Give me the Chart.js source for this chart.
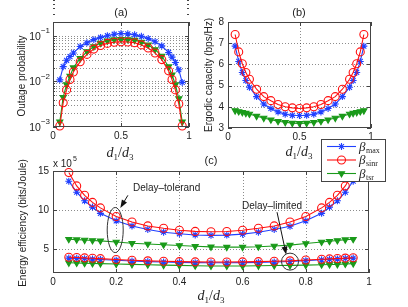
<!DOCTYPE html>
<html>
<head>
<meta charset="utf-8">
<script src="https://cdn.jsdelivr.net/npm/chart.js@4.4.0/dist/chart.umd.min.js"></script>
<style>
  html, body { margin: 0; padding: 0; background: #fff; }
  #wrap { position: relative; width: 408px; height: 307px; }
  #wrap canvas { position: absolute; }
  #chartA { left: 0; top: 0; }
  #chartB { left: 200px; top: 0; }
  #chartC { left: 0; top: 135px; }
</style>
</head>
<body>
<div id="wrap">
  <canvas id="chartA" width="200" height="160"></canvas>
  <canvas id="chartB" width="208" height="160"></canvas>
  <canvas id="chartC" width="408" height="172"></canvas>
</div>
<script>
// d1/d3 afstanden (x-as, gelijk voor alle panelen)
const xRatio = [0.05, 0.075, 0.1, 0.125, 0.15, 0.2, 0.25, 0.3, 0.35, 0.4, 0.45, 0.5,
                0.55, 0.6, 0.65, 0.7, 0.75, 0.8, 0.85, 0.875, 0.9, 0.925, 0.95];

// (a) outage probability
const outageMax  = [0.0108, 0.021, 0.029, 0.035, 0.042, 0.058, 0.070, 0.082, 0.092, 0.100, 0.108, 0.112,
                    0.110, 0.105, 0.097, 0.087, 0.074, 0.060, 0.043, 0.034, 0.026, 0.018, 0.0095];
const outageSinr = [0.00105, 0.0034, 0.0065, 0.011, 0.016, 0.027, 0.039, 0.051, 0.061, 0.068, 0.072, 0.074,
                    0.073, 0.070, 0.063, 0.054, 0.042, 0.030, 0.017, 0.011, 0.0065, 0.0032, 0.00105];
const outageTsr  = [0.0013, 0.0045, 0.0085, 0.013, 0.020, 0.032, 0.045, 0.058, 0.069, 0.077, 0.082, 0.084,
                    0.083, 0.080, 0.073, 0.063, 0.050, 0.036, 0.021, 0.014, 0.0085, 0.0042, 0.0013];

// (b) ergodic capacity
const capMax  = [6.86, 6.14, 5.62, 5.24, 4.92, 4.48, 4.13, 3.92, 3.76, 3.65, 3.60, 3.59,
                 3.60, 3.65, 3.76, 3.92, 4.13, 4.48, 4.92, 5.24, 5.62, 6.14, 6.86];
const capSinr = [7.41, 6.59, 6.03, 5.62, 5.30, 4.83, 4.48, 4.29, 4.11, 4.00, 3.95, 3.92,
                 3.95, 4.00, 4.11, 4.29, 4.48, 4.83, 5.30, 5.62, 6.03, 6.59, 7.41];
const capTsr  = [3.82, 3.78, 3.74, 3.70, 3.66, 3.56, 3.47, 3.39, 3.32, 3.27, 3.23, 3.22,
                 3.23, 3.27, 3.32, 3.39, 3.47, 3.56, 3.66, 3.70, 3.74, 3.78, 3.82];

// (c) energy efficiency (x 10^5), delay-tolerant en delay-limited
const eeTolMax  = [13.7, 12.3, 11.2, 10.4, 9.6, 8.65, 8.0, 7.55, 7.2, 7.0, 6.85, 6.8,
                   6.83, 6.95, 7.2, 7.55, 7.95, 8.65, 9.6, 10.4, 11.2, 12.3, 13.7];
const eeTolSinr = [14.8, 13.1, 11.9, 11.0, 10.3, 9.2, 8.5, 8.0, 7.7, 7.45, 7.3, 7.25,
                   7.28, 7.45, 7.7, 8.0, 8.5, 9.2, 10.3, 11.0, 11.9, 13.1, 14.8];
const eeTolTsr  = [6.3, 6.25, 6.2, 6.15, 6.1, 5.95, 5.8, 5.7, 5.6, 5.5, 5.4, 5.33,
                   5.3, 5.3, 5.35, 5.45, 5.55, 5.75, 5.95, 6.05, 6.15, 6.25, 6.3];
const eeLimMax  = [3.9, 3.87, 3.83, 3.78, 3.73, 3.63, 3.53, 3.45, 3.4, 3.35, 3.32, 3.3,
                   3.3, 3.32, 3.35, 3.4, 3.47, 3.57, 3.68, 3.75, 3.8, 3.85, 3.9];
const eeLimSinr = [4.0, 3.97, 3.93, 3.88, 3.83, 3.73, 3.63, 3.55, 3.5, 3.45, 3.42, 3.4,
                   3.4, 3.42, 3.45, 3.5, 3.55, 3.65, 3.75, 3.8, 3.85, 3.9, 3.95];
const eeLimTsr  = [3.3, 3.28, 3.25, 3.22, 3.2, 3.15, 3.1, 3.05, 3.0, 2.97, 2.93, 2.9,
                   2.9, 2.9, 2.92, 2.95, 2.97, 3.0, 3.05, 3.08, 3.1, 3.15, 3.2];

// tick waarden en labels
const xTicksAB = [0, 0.5, 1];
const xLabelsAB = ['0', '0.5', '1'];
const xTicksC = [0, 0.2, 0.4, 0.6, 0.8, 1];
const xLabelsC = ['0', '0.2', '0.4', '0.6', '0.8', '1'];
const outageDecades = [1e-3, 1e-2, 1e-1];
const outageExpLabels = ['\u22123', '\u22122', '\u22121'];
const capTicks = [3, 4, 5, 6, 7, 8];
const eeTicks = [5, 10, 15];
const legendNames = ['max', 'sinr', 'tsr'];

const FONT = '"Liberation Sans", Arial, sans-serif';
const SERIF = '"Liberation Serif", "DejaVu Serif", serif';
const TEXT = '#222';

const styles = {
  max:  { color: '#2040ff', pointStyle: 'star',     radius: 3.5, fill: '#2040ff', rotation: 0 },
  sinr: { color: '#ff1010', pointStyle: 'circle',   radius: 4,   fill: 'rgba(0,0,0,0)', rotation: 0 },
  tsr:  { color: '#1a9a1a', pointStyle: 'triangle', radius: 3.5, fill: '#1a9a1a', rotation: 180 }
};

function makeSet(key, values) {
  const s = styles[key];
  return {
    data: values.map((v, i) => ({ x: xRatio[i], y: v })),
    borderColor: s.color,
    backgroundColor: s.fill,
    pointBackgroundColor: s.fill,
    pointBorderColor: s.color,
    pointStyle: s.pointStyle,
    pointRadius: s.radius,
    pointRotation: s.rotation,
    pointBorderWidth: 1.1,
    borderWidth: 1.1,
    tension: 0,
    fill: false,
    clip: false
  };
}

// minor log ticks 1..9 per decade, plus 0.2 bovenaan
const outageGrid = [];
outageDecades.forEach(d => { for (let m = 1; m <= 9; m++) outageGrid.push(+(m * d).toPrecision(3)); });
outageGrid.push(0.2);

// raster, kader en labels tekent de frame plugin zelf
const noGrid = { display: false, drawTicks: false };

function axis(type, min, max, tickVals, fitKey, fitSize, labels) {
  return {
    type, min, max,
    ticks: { display: false },
    grid: noGrid, border: { display: false },
    afterBuildTicks: s => { s.ticks = tickVals.map(v => ({ value: v })); },
    afterFit: s => { s[fitKey] = fitSize; },
    tickLabels: labels
  };
}

function baseOptions(pad, xCfg, yCfg) {
  return {
    responsive: false, animation: false, devicePixelRatio: 1,
    layout: { padding: pad },
    plugins: { legend: { display: false }, tooltip: { enabled: false } },
    scales: { x: xCfg, y: yCfg }
  };
}

function drawText(ctx, text, x, y, size, align) {
  ctx.save();
  ctx.font = size + 'px ' + FONT;
  ctx.fillStyle = TEXT;
  ctx.textAlign = align || 'center';
  ctx.textBaseline = 'middle';
  ctx.fillText(text, x, y);
  ctx.restore();
}

// gestippeld raster + kader met naar binnen wijzende ticks + tick labels
const framePlugin = {
  id: 'frame',
  beforeDatasetsDraw(chart) {
    const { ctx, chartArea: a, scales } = chart;
    ctx.save();
    ctx.strokeStyle = 'rgba(0,0,0,0.45)';
    ctx.lineWidth = 1;
    ctx.setLineDash([1, 2]);
    scales.x.ticks.forEach(t => {
      const px = Math.round(scales.x.getPixelForValue(t.value)) + 0.5;
      if (px <= a.left + 1 || px >= a.right - 1) return;
      ctx.beginPath(); ctx.moveTo(px, a.top); ctx.lineTo(px, a.bottom); ctx.stroke();
    });
    scales.y.ticks.forEach(t => {
      const py = Math.round(scales.y.getPixelForValue(t.value)) + 0.5;
      if (py <= a.top + 1 || py >= a.bottom - 1) return;
      ctx.beginPath(); ctx.moveTo(a.left, py); ctx.lineTo(a.right, py); ctx.stroke();
    });
    ctx.restore();
  },
  afterDatasetsDraw(chart) {
    const { ctx, chartArea: a, scales } = chart;
    ctx.save();
    ctx.strokeStyle = '#444';
    ctx.lineWidth = 1;
    ctx.strokeRect(a.left + 0.5, a.top + 0.5, a.right - a.left - 1, a.bottom - a.top - 1);
    ctx.beginPath();
    scales.x.ticks.forEach(t => {
      const px = Math.round(scales.x.getPixelForValue(t.value)) + 0.5;
      ctx.moveTo(px, a.bottom); ctx.lineTo(px, a.bottom - 4);
      ctx.moveTo(px, a.top); ctx.lineTo(px, a.top + 4);
    });
    const isLog = scales.y.type === 'logarithmic';
    scales.y.ticks.forEach(t => {
      const py = Math.round(scales.y.getPixelForValue(t.value)) + 0.5;
      const len = isLog && !outageDecades.includes(t.value) ? 2 : 4;
      ctx.moveTo(a.left, py); ctx.lineTo(a.left + len, py);
      ctx.moveTo(a.right, py); ctx.lineTo(a.right - len, py);
    });
    ctx.stroke();
    ctx.restore();

    const xl = scales.x.options.tickLabels;
    if (xl) scales.x.ticks.forEach((t, i) => drawText(ctx, xl[i], scales.x.getPixelForValue(t.value), a.bottom + 9, 10));
    const yl = scales.y.options.tickLabels;
    if (yl) scales.y.ticks.forEach((t, i) => drawText(ctx, yl[i], a.left - 4, scales.y.getPixelForValue(t.value), 10, 'right'));
  }
};
Chart.register(framePlugin);

function drawRatio(ctx, cx, cy) {
  const parts = [
    ['d', 'italic 14px ' + SERIF, 0], ['1', '9px ' + SERIF, 3],
    ['/', '14px ' + SERIF, 0],
    ['d', 'italic 14px ' + SERIF, 0], ['3', '9px ' + SERIF, 3]
  ];
  ctx.save();
  ctx.fillStyle = TEXT;
  ctx.textBaseline = 'alphabetic';
  ctx.textAlign = 'left';
  let w = 0;
  parts.forEach(p => { ctx.font = p[1]; w += ctx.measureText(p[0]).width; });
  let x = cx - w / 2;
  parts.forEach(p => { ctx.font = p[1]; ctx.fillText(p[0], x, cy + 5 + p[2]); x += ctx.measureText(p[0]).width; });
  ctx.restore();
}

function drawVText(ctx, text, x, y) {
  ctx.save();
  ctx.translate(x, y);
  ctx.rotate(-Math.PI / 2);
  drawText(ctx, text, 0, 0, 10);
  ctx.restore();
}

function drawArrow(ctx, x1, y1, x2, y2) {
  const ang = Math.atan2(y2 - y1, x2 - x1);
  ctx.save();
  ctx.strokeStyle = '#111'; ctx.fillStyle = '#111'; ctx.lineWidth = 1;
  ctx.beginPath(); ctx.moveTo(x1, y1); ctx.lineTo(x2 - 5 * Math.cos(ang), y2 - 5 * Math.sin(ang)); ctx.stroke();
  ctx.beginPath();
  ctx.moveTo(x2, y2);
  ctx.lineTo(x2 - 8 * Math.cos(ang) + 3 * Math.sin(ang), y2 - 8 * Math.sin(ang) - 3 * Math.cos(ang));
  ctx.lineTo(x2 - 8 * Math.cos(ang) - 3 * Math.sin(ang), y2 - 8 * Math.sin(ang) + 3 * Math.cos(ang));
  ctx.closePath(); ctx.fill();
  ctx.restore();
}

// (a) canvas op (0,0)
new Chart(document.getElementById('chartA'), {
  type: 'line',
  data: { datasets: [makeSet('sinr', outageSinr), makeSet('tsr', outageTsr), makeSet('max', outageMax)] },
  options: baseOptions({ left: 23, right: 11, top: 22, bottom: 13 },
    axis('linear', 0, 1, xTicksAB, 'height', 20, xLabelsAB),
    axis('logarithmic', 0.001, 0.2, outageGrid, 'width', 30, null)),
  plugins: [{
    id: 'textA',
    afterDraw(chart) {
      const { ctx, chartArea: a, scales } = chart;
      drawText(ctx, '(a)', 121, 13, 11);
      drawVText(ctx, 'Outage probability', 22, 76);
      drawRatio(ctx, 120, 152);
      outageDecades.forEach((d, i) => {
        const py = scales.y.getPixelForValue(d);
        ctx.save();
        ctx.font = '8px ' + FONT;
        const sw = ctx.measureText(outageExpLabels[i]).width;
        ctx.restore();
        const right = a.left - 3;
        drawText(ctx, outageExpLabels[i], right, py - 5, 8, 'right');
        drawText(ctx, '10', right - sw, py + 1, 10.5, 'right');
      });
    }
  }]
});

// (b) canvas op (200,0)
new Chart(document.getElementById('chartB'), {
  type: 'line',
  data: { datasets: [makeSet('sinr', capSinr), makeSet('max', capMax), makeSet('tsr', capTsr)] },
  options: baseOptions({ left: 2, right: 37, top: 22, bottom: 12 },
    axis('linear', 0, 1, xTicksAB, 'height', 20, xLabelsAB),
    axis('linear', 3, 8, capTicks, 'width', 26, capTicks.map(String))),
  plugins: [{
    id: 'textB',
    afterDraw(chart) {
      const { ctx } = chart;
      drawText(ctx, '(b)', 99, 13, 11);
      drawVText(ctx, 'Ergodic capacity (bps/Hz)', 9, 75);
      drawRatio(ctx, 99, 151);
    }
  }]
});

// (c) canvas op (0,135)
const OY = 135;
new Chart(document.getElementById('chartC'), {
  type: 'line',
  data: { datasets: [
    makeSet('sinr', eeTolSinr), makeSet('max', eeTolMax), makeSet('tsr', eeTolTsr),
    makeSet('sinr', eeLimSinr), makeSet('max', eeLimMax), makeSet('tsr', eeLimTsr)
  ] },
  options: baseOptions({ left: 23, right: 39, top: 36, bottom: 14 },
    axis('linear', 0, 1, xTicksC, 'height', 20, xLabelsC),
    axis('linear', 2, 15, eeTicks, 'width', 30, eeTicks.map(String))),
  plugins: [{
    id: 'textC',
    afterDraw(chart) {
      const { ctx, scales } = chart;
      const X = v => scales.x.getPixelForValue(v);
      const Y = v => scales.y.getPixelForValue(v);
      drawText(ctx, '(c)', 211, 161 - OY, 11);
      drawText(ctx, 'x 10', 53, 164 - OY, 10, 'left');
      drawText(ctx, '5', 73, 159 - OY, 7, 'left');
      drawVText(ctx, 'Energy efficiency (bits/Joule)', 23, 223 - OY);
      drawRatio(ctx, 211, 295 - OY);

      // annotaties
      ctx.save();
      ctx.strokeStyle = '#333'; ctx.lineWidth = 1;
      const ey1 = Y(10.35), ey2 = Y(4.6);
      ctx.beginPath();
      ctx.ellipse(X(0.2) - 1, (ey1 + ey2) / 2, 8, (ey2 - ey1) / 2, 0, 0, Math.PI * 2);
      ctx.stroke();
      ctx.beginPath();
      ctx.arc(X(0.75), Y(3.45), 8.5, 0, Math.PI * 2);
      ctx.stroke();
      ctx.restore();
      drawText(ctx, 'Delay\u2013tolerand', X(0.253), Y(12.85), 10, 'left');
      drawArrow(ctx, X(0.237), Y(11.9), X(0.213), Y(10.3));
      drawText(ctx, 'Delay\u2013limited', X(0.693), Y(10.55), 10);
      drawArrow(ctx, X(0.709), Y(9.75), X(0.738), Y(4.35));

      // legenda
      const lx = 321, ly = 139 - OY, lw = 64, lh = 42;
      ctx.save();
      ctx.fillStyle = '#fff';
      ctx.fillRect(lx, ly, lw, lh);
      ctx.strokeStyle = '#444'; ctx.lineWidth = 1;
      ctx.strokeRect(lx + 0.5, ly + 0.5, lw, lh);
      ['max', 'sinr', 'tsr'].forEach((key, i) => {
        const s = styles[key];
        const ry = ly + 7.5 + i * 13.5;
        ctx.strokeStyle = s.color; ctx.lineWidth = 1.1;
        ctx.beginPath(); ctx.moveTo(lx + 6, ry); ctx.lineTo(lx + 35, ry); ctx.stroke();
        ctx.fillStyle = s.fill;
        Chart.helpers.drawPoint(ctx, { pointStyle: s.pointStyle, radius: s.radius, rotation: s.rotation, borderWidth: 1.1 }, lx + 20.5, ry);
        ctx.fillStyle = TEXT;
        ctx.textBaseline = 'alphabetic'; ctx.textAlign = 'left';
        ctx.font = 'italic 13px ' + SERIF;
        ctx.fillText('\u03b2', lx + 38, ry + 4);
        const bw = ctx.measureText('\u03b2').width;
        ctx.font = '8px ' + SERIF;
        ctx.fillText(legendNames[i], lx + 38 + bw + 0.5, ry + 6);
      });
      ctx.restore();
    }
  }]
});
</script>
</body>
</html>
